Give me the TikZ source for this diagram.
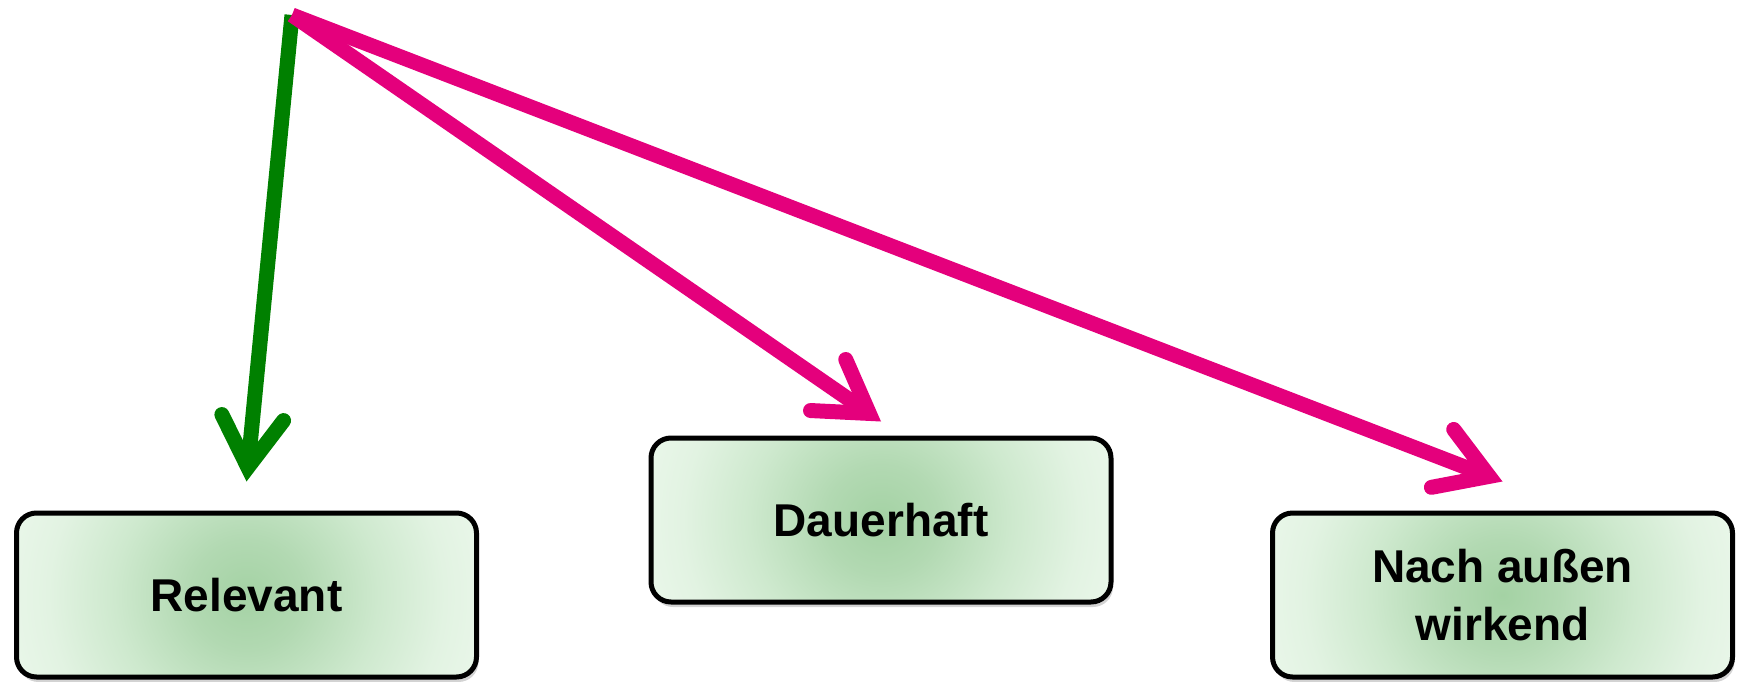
\documentclass[tikz,border=0pt]{standalone}
\usepackage{fontspec}
\setmainfont{Liberation Sans}
\usetikzlibrary{arrows.meta,shadows}
\definecolor{arrgreen}{RGB}{0,128,0}
\definecolor{arrmag}{RGB}{228,0,124}
\definecolor{boxin}{RGB}{164,210,164}
\definecolor{boxa}{RGB}{178,217,178}
\definecolor{boxb}{RGB}{206,233,206}
\definecolor{boxc}{RGB}{226,243,226}
\definecolor{boxout}{RGB}{232,246,232}
\pgfdeclareradialshading{boxglow}{\pgfpointorigin}{color(0bp)=(boxin); color(6bp)=(boxa); color(14bp)=(boxb); color(21bp)=(boxc); color(25bp)=(boxout); color(50bp)=(boxout)}
\begin{document}
\begin{tikzpicture}[x=0.5pt,y=-0.5pt,
  box/.style={draw=black, line width=2.5pt, rounded corners=10pt,
    minimum width=230pt, minimum height=82pt, align=center,
    fill=boxout,
    path picture={\shade[shading=boxglow]
      ([shift={(-118pt,-115pt)}]path picture bounding box.center) rectangle
      ([shift={(118pt,115pt)}]path picture bounding box.center);},
    drop shadow={shadow xshift=1pt, shadow yshift=-2.5pt, opacity=0.35},
    font=\bfseries\fontsize{23}{29}\selectfont, text=black},
  arr/.style={line width=7.5pt,
    -{Straight Barb[length=25pt, width=31pt, line cap=round, line join=miter]}}]
\useasboundingbox (0,0) rectangle (1746,681);
\coordinate (src) at (292,15);
\node[box] (rel) at (246.5,595) {Relevant};
\node[box] (dau) at (881,520) {Dauerhaft};
\node[box] (nach) at (1502.5,595) {Nach außen\\wirkend};
\draw[arr, draw=arrgreen] (src) -- ([yshift=14.5pt]rel.north);
\draw[arr, draw=arrmag] (src) -- ([yshift=7pt]dau.north);
\draw[arr, draw=arrmag] (src) -- ([yshift=14.5pt]nach.north);
\end{tikzpicture}
\end{document}
